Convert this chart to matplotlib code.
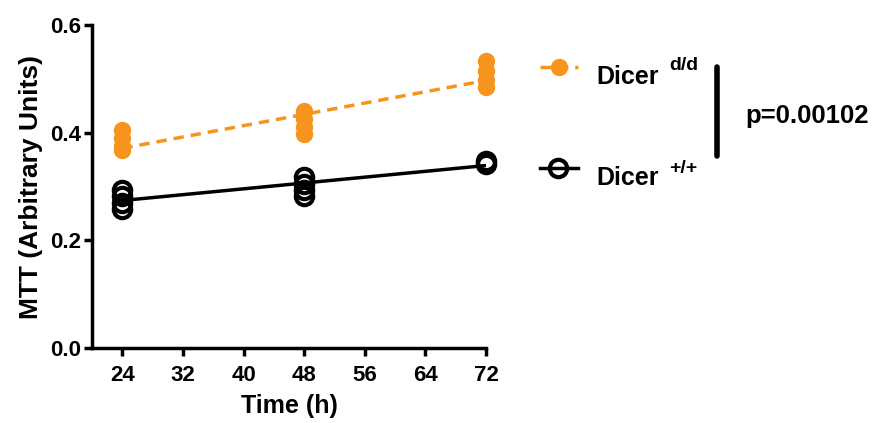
import numpy as np
import matplotlib
matplotlib.use("Agg")
import matplotlib.pyplot as plt

plt.rcParams['font.family'] = ['Liberation Sans', 'DejaVu Sans']
plt.rcParams['font.weight'] = 'bold'

# replicate readings at each time point
time_h = [24, 48, 72]
dicer_dd = [
    [0.405, 0.39, 0.375, 0.368],
    [0.44, 0.425, 0.41, 0.398],
    [0.533, 0.515, 0.497, 0.484],
]
dicer_wt = [
    [0.293, 0.282, 0.27, 0.258],
    [0.317, 0.305, 0.293, 0.282],
    [0.347, 0.341],
]
# fitted lines
fit_x = [24, 72]
fit_dd = [0.371, 0.497]
fit_wt = [0.274, 0.339]

x_ticks = [24, 32, 40, 48, 56, 64, 72]
y_ticks = [0.0, 0.2, 0.4, 0.6]

orange = '#F7941D'

fig = plt.figure(figsize=(8.73, 4.23), dpi=100)
ax = fig.add_axes([0.1054, 0.1773, 0.4513, 0.7636])

ax.plot(fit_x, fit_dd, color=orange, linestyle=(0, (3, 2)), linewidth=2.5, zorder=2)
ax.plot(fit_x, fit_wt, color='black', linewidth=2.5, zorder=2)

for t, vals in zip(time_h, dicer_dd):
    ax.plot([t] * len(vals), vals, 'o', color=orange, markersize=12.5,
            markeredgewidth=0, clip_on=False, zorder=3)
for t, vals in zip(time_h, dicer_wt):
    ax.plot([t] * len(vals), vals, 'o', markerfacecolor='none', markeredgecolor='black',
            markersize=12.5, markeredgewidth=3, clip_on=False, zorder=3)

ax.set_xlim(20, 72)
ax.set_ylim(0, 0.6)
ax.set_xticks(x_ticks)
ax.set_yticks(y_ticks)
ax.set_yticklabels([f"{v:.1f}" for v in y_ticks])
for s in ['top', 'right']:
    ax.spines[s].set_visible(False)
for s in ['left', 'bottom']:
    ax.spines[s].set_linewidth(2.5)
ax.tick_params(width=2.5, length=6, labelsize=16)
ax.tick_params(axis='x', pad=6)
ax.tick_params(axis='y', pad=2)
for lbl in ax.get_xticklabels() + ax.get_yticklabels():
    lbl.set_fontweight('bold')
ax.set_xlabel('Time (h)', fontsize=18, fontweight='bold', labelpad=6)
ax.set_ylabel('MTT (Arbitrary Units)', fontsize=19, fontweight='bold', labelpad=5)

# manual legend
def fx(px):
    return px / 873

def fy(py):
    return 1 - py / 423

fig.add_artist(plt.Line2D([fx(540), fx(578)], [fy(67), fy(67)], color=orange,
                          linestyle=(0, (3, 2)), linewidth=2.5))
fig.add_artist(plt.Line2D([fx(559)], [fy(67)], marker='o', color=orange, markersize=12.5,
                          markeredgewidth=0))
fig.add_artist(plt.Line2D([fx(540), fx(578)], [fy(168), fy(168)], color='black', linewidth=2.5))
fig.add_artist(plt.Line2D([fx(558)], [fy(168)], marker='o', markerfacecolor='none',
                          markeredgecolor='black', markersize=12.5, markeredgewidth=3))
fig.text(fx(596), fy(77), 'Dicer', fontsize=18, fontweight='bold', va='center', ha='left')
fig.text(fx(669), fy(66), 'd/d', fontsize=14, fontweight='bold', va='center', ha='left')
fig.text(fx(596), fy(178), 'Dicer', fontsize=18, fontweight='bold', va='center', ha='left')
fig.text(fx(669), fy(168), '+/+', fontsize=14, fontweight='bold', va='center', ha='left')

fig.add_artist(plt.Line2D([fx(717), fx(717)], [fy(67), fy(156)], color='black',
                          linewidth=4, solid_capstyle='round'))
fig.text(fx(745), fy(116), 'p=0.00102', fontsize=18.5, fontweight='bold', va='center', ha='left')

fig.savefig('out.png', dpi=100)
